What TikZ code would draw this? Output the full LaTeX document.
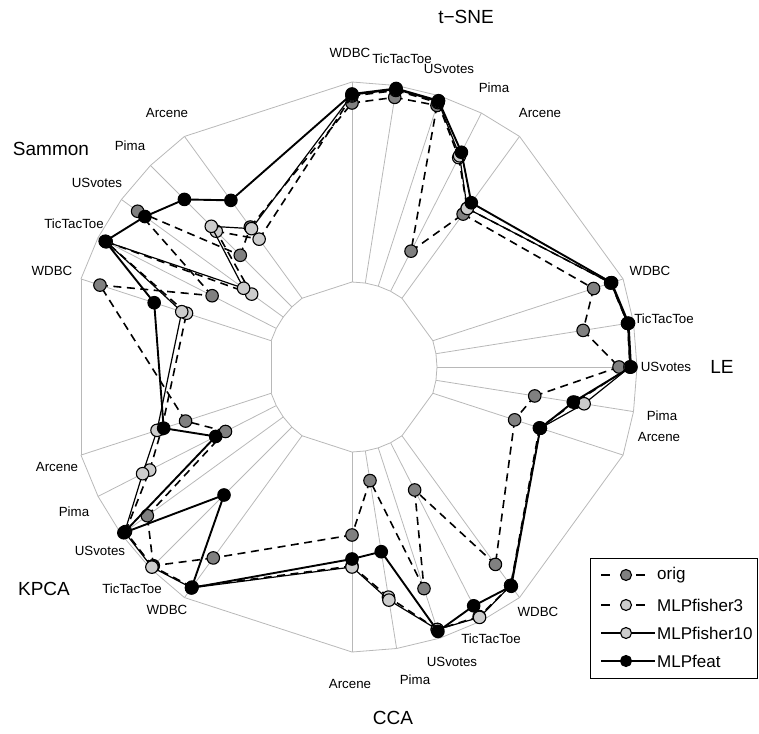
\documentclass[tikz,border=0pt]{standalone}
\usepackage{fontspec}
\setmainfont{Liberation Sans}
\begin{document}
\begin{tikzpicture}[x=1pt,y=-1pt,
  gridline/.style={draw=black!28, line width=0.8pt},
  lbl/.style={font=\fontsize{13.3}{15}\selectfont, inner sep=0pt},
  mlbl/.style={font=\fontsize{19}{22}\selectfont, inner sep=0pt},
  leglbl/.style={font=\fontsize{17}{20}\selectfont, inner sep=0pt, anchor=west},
  pt/.style={circle, draw=black, line width=1.1pt, inner sep=0pt, minimum size=12.5pt},
  origpt/.style={pt, fill=black!50},
  lightpt/.style={pt, fill=black!20},
  featpt/.style={pt, fill=black},
  dashln/.style={line width=1.6pt, dash pattern=on 8pt off 5.5pt},
  thinln/.style={line width=1.2pt},
  featln/.style={line width=1.9pt}
]
\useasboundingbox (0,0) rectangle (759,733);
\coordinate (C) at (352,367);

% spokes and rings
\begin{scope}[shift={(352,367)}]
\foreach \n in {0,...,24}{
  \pgfmathsetmacro\ang{9*(8*floor(\n/5)+mod(\n,5))-90}
  \coordinate (in\n) at (\ang:85);
  \coordinate (out\n) at (\ang:285);
  \draw[gridline] (in\n) -- (out\n);
}
\end{scope}
\foreach \n in {0,...,24}{
  \pgfmathtruncatemacro\m{mod(\n+1,25)}
  \draw[gridline] (in\n) -- (in\m);
  \draw[gridline] (out\n) -- (out\m);
}

% data series
\newcommand{\placeseries}[3]{%
  \begin{scope}[shift={(352,367)}]
  \foreach \r [count=\k from 0] in {#3}{
    \pgfmathsetmacro\ang{9*(8*floor(\k/5)+mod(\k,5))-90}
    \coordinate (#1\k) at (\ang:\r);
  }
  \end{scope}
}
\newcommand{\drawseries}[3]{%
  \foreach \n in {0,...,24}{
    \pgfmathtruncatemacro\m{mod(\n+1,25)}
    \draw[#2] (#1\n) -- (#1\m);
  }
  \foreach \n in {0,...,24}{
    \node[#3] (#1p\n) at (#1\n) {};
  }
}
\placeseries{o}{}{264,273,275,130,189, 254,234,267,185,171, 244,138,233,115,168, 236,281,253,142,175, 265,157,265,158,173}
\placeseries{a}{}{271,280,278,235,196, 272,279,278,226,197, 270,280,276,233,199, 272,282,280,227,200, 174,276,124,192,158}
\placeseries{b}{}{272,281,279,237,196, 272,279,278,235,198, 270,281,276,236,200, 273,283,281,235,205, 179,276,134,199,171}
\placeseries{f}{}{273,282,280,241,203, 273,280,279,224,198, 271,268,278,187,192, 273,181,282,153,198, 208,277,256,237,206}

\drawseries{o}{dashln}{origpt}
\drawseries{a}{dashln}{lightpt}
\drawseries{b}{thinln}{lightpt}
\drawseries{f}{featln}{featpt}

% method labels
\node[mlbl] (mtsne) at (466,17) {t−SNE};
\node[mlbl] (mle) at (722,367) {LE};
\node[mlbl] (mcca) at (393,718) {CCA};
\node[mlbl] (mkpca) at (44,589) {KPCA};
\node[mlbl] (msam) at (51,149) {Sammon};

% dataset labels
\node[lbl] (l1) at (350,53) {WDBC};
\node[lbl] (l2) at (402,59) {TicTacToe};
\node[lbl] (l3) at (449,69) {USvotes};
\node[lbl] (l4) at (494,88) {Pima};
\node[lbl] (l5) at (540,113) {Arcene};

\node[lbl] (l6) at (650,271) {WDBC};
\node[lbl] (l7) at (664,319) {TicTacToe};
\node[lbl] (l8) at (666,367) {USvotes};
\node[lbl] (l9) at (662,416) {Pima};
\node[lbl] (l10) at (659,437) {Arcene};

\node[lbl] (l11) at (538,612) {WDBC};
\node[lbl] (l12) at (491,639) {TicTacToe};
\node[lbl] (l13) at (452,662) {USvotes};
\node[lbl] (l14) at (415,680) {Pima};
\node[lbl] (l15) at (350,684) {Arcene};

\node[lbl] (l16) at (167,610) {WDBC};
\node[lbl] (l17) at (132,589) {TicTacToe};
\node[lbl] (l18) at (100,551) {USvotes};
\node[lbl] (l19) at (74,512) {Pima};
\node[lbl] (l20) at (57,467) {Arcene};

\node[lbl] (l21) at (52,271) {WDBC};
\node[lbl] (l22) at (74,224) {TicTacToe};
\node[lbl] (l23) at (97,183) {USvotes};
\node[lbl] (l24) at (130,146) {Pima};
\node[lbl] (l25) at (167,113) {Arcene};

% legend
\node[draw=black, line width=1.1pt, minimum width=167pt, minimum height=120pt, anchor=north west, inner sep=0pt] (legbox) at (590,558) {};
\coordinate (la1) at (601,575); \coordinate (la2) at (610,575);
\coordinate (la3) at (636,575); \coordinate (la4) at (645,575);
\draw[line width=1.4pt] (la1) -- (la2);
\draw[line width=1.4pt] (la3) -- (la4);
\node[origpt, minimum size=11pt] (lp1) at (626,575) {};
\node[leglbl] (lt1) at (657,575) {orig};
\coordinate (lb1) at (601,605); \coordinate (lb2) at (610,605);
\coordinate (lb3) at (636,605); \coordinate (lb4) at (645,605);
\draw[line width=1.4pt] (lb1) -- (lb2);
\draw[line width=1.4pt] (lb3) -- (lb4);
\node[lightpt, minimum size=11pt] (lp2) at (626,605) {};
\node[leglbl] (lt2) at (657,605) {MLPfisher3};
\coordinate (lc1) at (601,633); \coordinate (lc2) at (655,633);
\draw[thinln] (lc1) -- (lc2);
\node[lightpt, minimum size=11pt] (lp3) at (626,633) {};
\node[leglbl] (lt3) at (657,633) {MLPfisher10};
\coordinate (ld1) at (601,661); \coordinate (ld2) at (655,661);
\draw[thinln] (ld1) -- (ld2);
\node[featpt, minimum size=11pt] (lp4) at (626,661) {};
\node[leglbl] (lt4) at (657,661) {MLPfeat};
\end{tikzpicture}
\end{document}
